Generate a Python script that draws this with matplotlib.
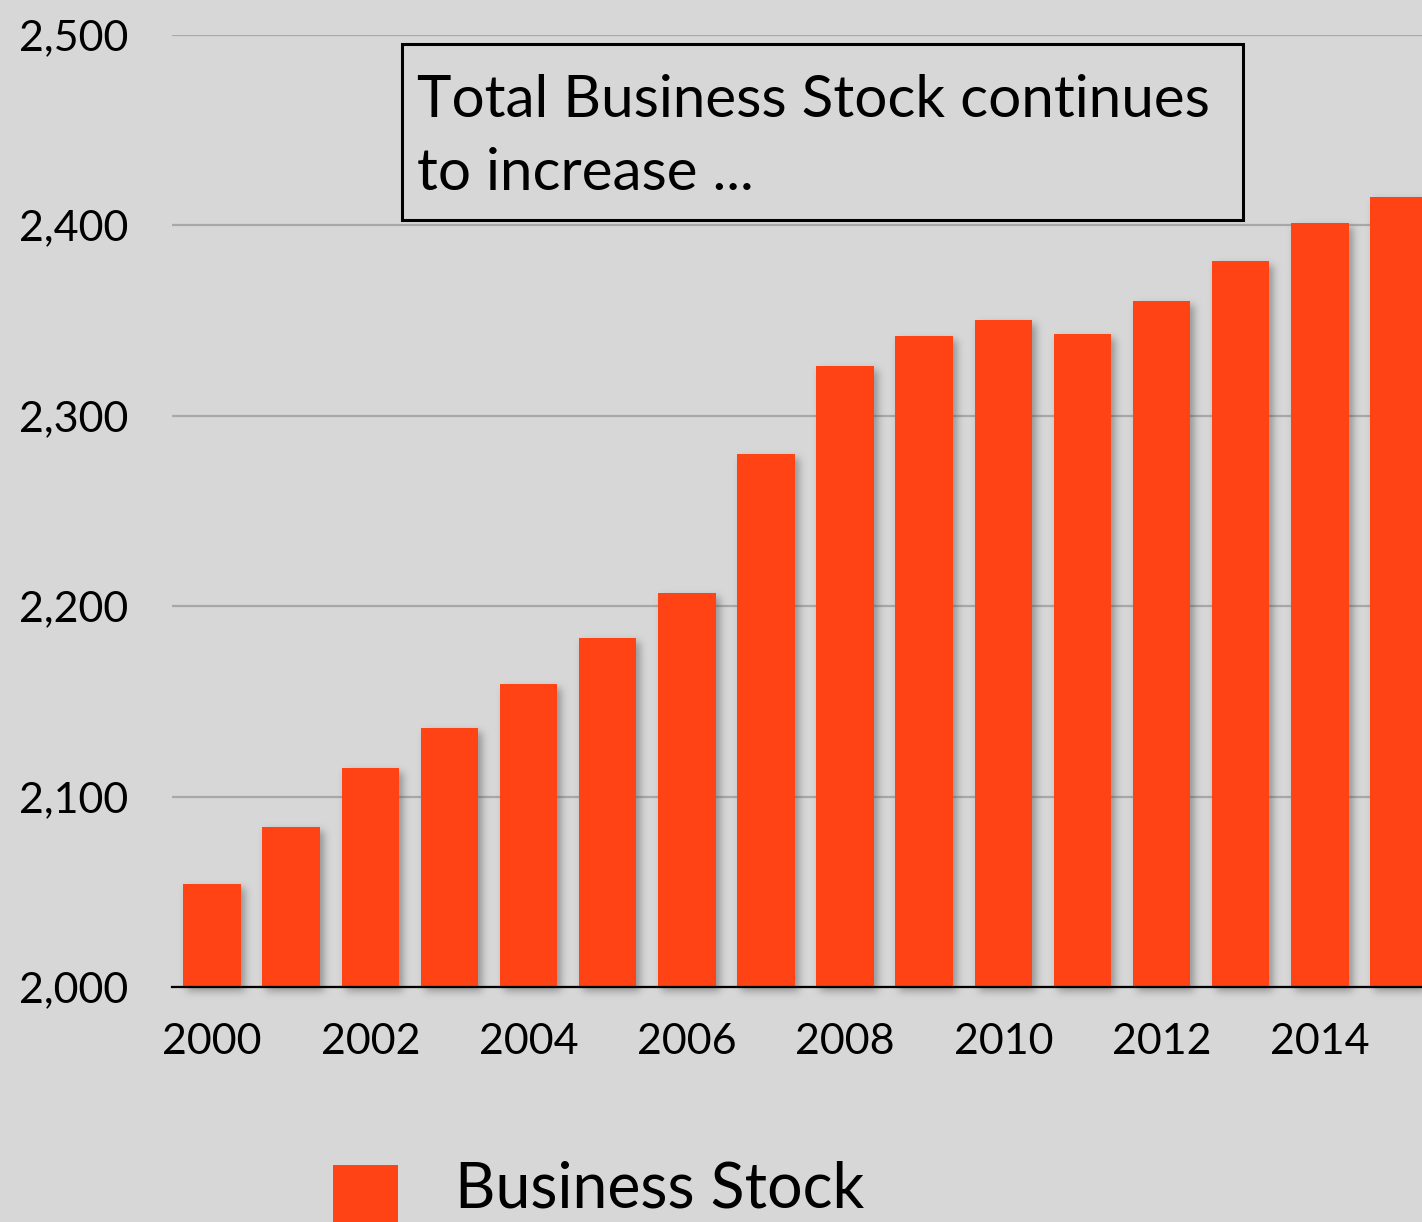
import numpy as np
import matplotlib
matplotlib.use("Agg")
import matplotlib.pyplot as plt
from matplotlib.patches import Rectangle
from matplotlib.ticker import FuncFormatter

# Business stock by year
years = list(range(2000, 2016))
business_stock = [2054, 2084, 2115, 2136, 2159, 2183, 2207, 2280,
                  2326, 2342, 2350, 2343, 2360, 2381, 2401, 2415]
y_ticks = [2000, 2100, 2200, 2300, 2400, 2500]
x_tick_years = [2000, 2002, 2004, 2006, 2008, 2010, 2012, 2014]
series_label = "Business Stock"
note_lines = ["Total Business Stock continues", "to increase ..."]

BG = "#d7d7d7"
BAR = "#ff4314"
FONT = ["Lato", "DejaVu Sans"]

plt.rcParams["font.family"] = FONT


def _smooth1d(a, sigma):
    r = int(3 * sigma)
    k = np.exp(-0.5 * (np.arange(-r, r + 1) / sigma) ** 2)
    k /= k.sum()
    return np.convolve(a, k, mode="same")


def _smooth2d(a, sigma):
    a = np.apply_along_axis(_smooth1d, 0, a, sigma)
    return np.apply_along_axis(_smooth1d, 1, a, sigma)


class DropShadow:
    """agg_filter producing a soft grey shadow shifted right/down."""

    def __init__(self, sigma=4.0, alpha=0.45, dx=4, dy=4, color=(0.25, 0.25, 0.25)):
        self.sigma, self.alpha, self.dx, self.dy, self.color = sigma, alpha, dx, dy, color

    def __call__(self, im, dpi):
        pad = int(3 * self.sigma) + max(self.dx, self.dy) + 2
        src = np.pad(im, [(pad, pad), (pad, pad), (0, 0)], "constant")
        out = np.empty_like(src)
        out[..., :3] = self.color
        out[..., 3] = _smooth2d(src[..., 3] * self.alpha, self.sigma)
        out = np.roll(out, self.dx, axis=1)
        out = np.roll(out, self.dy, axis=0)
        return out, -pad, -pad


fig = plt.figure(figsize=(14.22, 12.22), dpi=100, facecolor=BG)
ax = fig.add_axes([0.1213, 0.1923, 0.8903, 0.7793])
ax.set_facecolor(BG)

x = np.arange(len(years))
heights = np.array(business_stock) - y_ticks[0]

# soft shadow layer behind the bars
shadow = ax.bar(x, heights, bottom=y_ticks[0], width=0.727, color="k",
                zorder=2, clip_on=False)
for p in shadow:
    p.set_agg_filter(DropShadow())

bars = ax.bar(x, heights, bottom=y_ticks[0], width=0.727, color=BAR,
              zorder=3, label=series_label)

ax.set_xlim(-0.5, len(years) - 0.5)
ax.set_ylim(y_ticks[0], y_ticks[-1])
ax.set_yticks(y_ticks)
ax.yaxis.set_major_formatter(FuncFormatter(lambda v, _: f"{int(v):,}"))
ax.set_xticks([years.index(yr) for yr in x_tick_years])
ax.set_xticklabels([str(yr) for yr in x_tick_years])

ax.grid(axis="y", color="#a8a8a8", linewidth=1.6, zorder=1)
ax.set_axisbelow(True)
for side in ("top", "right", "left"):
    ax.spines[side].set_visible(False)
ax.spines["bottom"].set_color("black")
ax.spines["bottom"].set_linewidth(1.6)
ax.spines["bottom"].set_zorder(4)

ax.tick_params(axis="both", length=0, labelsize=31, colors="black")
ax.tick_params(axis="y", pad=32)
ax.tick_params(axis="x", pad=26)


def px(xp, yp):
    """Figure fraction from pixel position measured from the top-left."""
    W, H = fig.get_size_inches() * fig.dpi
    return xp / W, 1 - yp / H


# Annotation box
x0, y0 = px(402, 220)
x1, y1 = px(1243, 44)
fig.add_artist(Rectangle((x0, y0), x1 - x0, y1 - y0, transform=fig.transFigure,
                         facecolor="none", edgecolor="black", linewidth=2.2))
for line, base in zip(note_lines, (117, 190)):
    tx, ty = px(417, base)
    fig.text(tx, ty, line, fontsize=42, va="baseline", ha="left", color="black")

# Legend
lx0, ly0 = px(333, 1240)
lx1, ly1 = px(398, 1165)
fig.add_artist(Rectangle((lx0, ly0), lx1 - lx0, ly1 - ly0, transform=fig.transFigure,
                         facecolor=BAR, edgecolor="none"))
tx, ty = px(455, 1208)
fig.text(tx, ty, series_label, fontsize=45, va="baseline", ha="left", color="black")

fig.savefig("out.png", dpi=100, facecolor=BG)
